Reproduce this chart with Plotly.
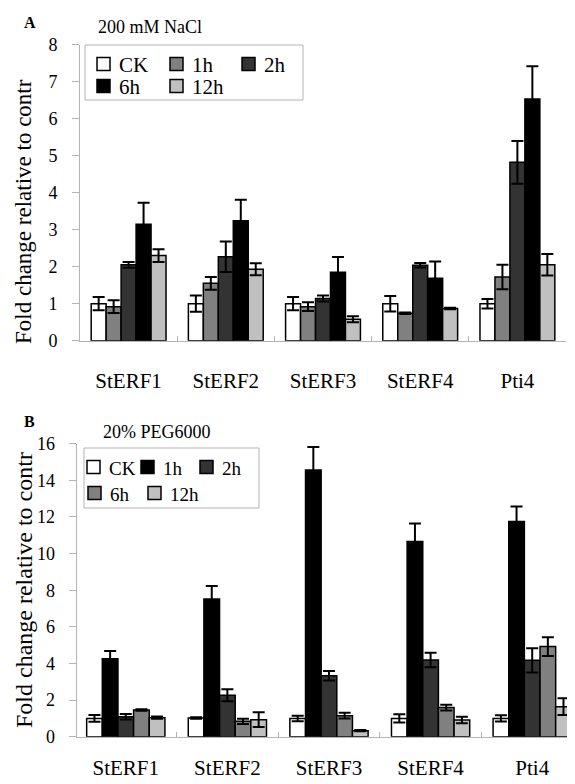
import plotly.graph_objects as go

W, H = 575, 784
OFF = 8  # page body margin offset
FONT = "Liberation Serif"

genes = ["StERF1", "StERF2", "StERF3", "StERF4", "Pti4"]
times = ["CK", "1h", "2h", "6h", "12h"]

# Panel A: 200 mM NaCl
nacl_ck = [1.00, 1.00, 1.00, 1.00, 1.00]
nacl_1h = [0.92, 1.55, 0.92, 0.74, 1.72]
nacl_2h = [2.05, 2.27, 1.14, 2.04, 4.82]
nacl_6h = [3.15, 3.24, 1.85, 1.69, 6.53]
nacl_12h = [2.30, 1.93, 0.58, 0.87, 2.05]
nacl_ck_err = [0.18, 0.22, 0.18, 0.21, 0.13]
nacl_1h_err = [0.17, 0.17, 0.12, 0.02, 0.33]
nacl_2h_err = [0.08, 0.41, 0.08, 0.06, 0.58]
nacl_6h_err = [0.58, 0.57, 0.41, 0.45, 0.89]
nacl_12h_err = [0.17, 0.16, 0.08, 0.02, 0.29]

# Panel B: 20% PEG6000
peg_ck = [1.00, 1.02, 1.00, 1.00, 1.00]
peg_1h = [4.25, 7.52, 14.57, 10.66, 11.75]
peg_2h = [1.09, 2.26, 3.33, 4.19, 4.17]
peg_6h = [1.46, 0.84, 1.15, 1.59, 4.92]
peg_12h = [1.04, 0.93, 0.33, 0.91, 1.64]
peg_ck_err = [0.18, 0.04, 0.15, 0.22, 0.17]
peg_1h_err = [0.43, 0.71, 1.25, 0.98, 0.82]
peg_2h_err = [0.15, 0.33, 0.26, 0.40, 0.66]
peg_6h_err = [0.04, 0.14, 0.16, 0.16, 0.51]
peg_12h_err = [0.06, 0.40, 0.03, 0.18, 0.46]

yticks_a = [0, 1, 2, 3, 4, 5, 6, 7, 8]
yticks_b = [0, 2, 4, 6, 8, 10, 12, 14, 16]

colors_a = ["#ffffff", "#808080", "#333333", "#000000", "#c0c0c0"]
colors_b = ["#ffffff", "#000000", "#333333", "#808080", "#c0c0c0"]

ytitle = "Fold change relative to contr"

nacl_vals = [nacl_ck, nacl_1h, nacl_2h, nacl_6h, nacl_12h]
nacl_errs = [nacl_ck_err, nacl_1h_err, nacl_2h_err, nacl_6h_err, nacl_12h_err]
peg_vals = [peg_ck, peg_1h, peg_2h, peg_6h, peg_12h]
peg_errs = [peg_ck_err, peg_1h_err, peg_2h_err, peg_6h_err, peg_12h_err]


def px(x):
    return (x - OFF) / W


def py(y):
    return 1 - (y - OFF) / H


fig = go.Figure()

for name, vals, errs, col in zip(times, nacl_vals, nacl_errs, colors_a):
    fig.add_trace(go.Bar(
        x=genes, y=vals, name=name, xaxis="x", yaxis="y", showlegend=False,
        marker=dict(color=col, line=dict(color="black", width=1.5)),
        error_y=dict(type="data", array=errs, visible=True, color="black",
                     thickness=2, width=6),
    ))

for name, vals, errs, col in zip(times, peg_vals, peg_errs, colors_b):
    fig.add_trace(go.Bar(
        x=genes, y=vals, name=name, xaxis="x2", yaxis="y2", showlegend=False,
        marker=dict(color=col, line=dict(color="black", width=1.5)),
        error_y=dict(type="data", array=errs, visible=True, color="black",
                     thickness=2, width=6),
    ))

axis_gray = "#b4b4b4"
xcommon = dict(type="category", showline=True, linecolor=axis_gray, linewidth=1,
               ticks="inside", tickson="boundaries", ticklen=5, tickcolor=axis_gray,
               showgrid=False, zeroline=False, automargin=False,
               tickfont=dict(family=FONT, size=21, color="black"))
ycommon = dict(showline=True, linecolor=axis_gray, linewidth=1, ticks="outside",
               ticklen=7, tickcolor=axis_gray, showgrid=False, zeroline=False,
               automargin=False, tickfont=dict(family=FONT, size=18, color="black"))

fig.update_layout(
    width=W, height=H,
    margin=dict(l=0, r=0, t=0, b=0, autoexpand=False),
    paper_bgcolor="white", plot_bgcolor="white",
    barmode="group", bargap=0.23, bargroupgap=0,
    xaxis=dict(domain=[px(80), px(566)], anchor="y", range=[-0.5, 4.5],
               ticklabelstandoff=21, **xcommon),
    yaxis=dict(domain=[py(340.7), py(44.7)], anchor="x", range=[0, 8],
               tickvals=yticks_a, ticklabelstandoff=11, **ycommon),
    xaxis2=dict(domain=[px(76.5), 1], anchor="y2", range=[-0.485, 4.5],
                ticklabelstandoff=12, **xcommon),
    yaxis2=dict(domain=[py(736.7), py(443.7)], anchor="x2", range=[0, 16],
                tickvals=yticks_b, ticklabelstandoff=10, **ycommon),
)

annotations = [
    dict(text="<b>A</b>", x=px(22), y=py(22), xanchor="left", yanchor="middle",
         font=dict(family=FONT, size=16, color="black")),
    dict(text="200 mM NaCl", x=px(96), y=py(27), xanchor="left", yanchor="middle",
         font=dict(family=FONT, size=18, color="black")),
    dict(text="<b>B</b>", x=px(22), y=py(421), xanchor="left", yanchor="middle",
         font=dict(family=FONT, size=16, color="black")),
    dict(text="20% PEG6000", x=px(101), y=py(432), xanchor="left", yanchor="middle",
         font=dict(family=FONT, size=18, color="black")),
    dict(text=ytitle, x=px(23), y=py(212), xanchor="center", yanchor="middle",
         textangle=-90, font=dict(family=FONT, size=23, color="black")),
    dict(text=ytitle, x=px(24), y=py(590), xanchor="center", yanchor="middle",
         textangle=-90, font=dict(family=FONT, size=24, color="black")),
]
shapes = []

# Legend boxes built from the series names and colours
legend_a = dict(box=(85, 45, 303, 100), size=21,
                slots=[(97, 64), (170, 64), (242, 64), (97, 86), (170, 86)], gap=20)
legend_b = dict(box=(84, 448, 259, 508), size=19,
                slots=[(87, 467), (141, 467), (200, 467), (88, 493), (148, 493)], gap=20)

for leg, cols in ((legend_a, colors_a), (legend_b, colors_b)):
    x0, y0, x1, y1 = leg["box"]
    shapes.append(dict(type="rect", xref="paper", yref="paper",
                       x0=px(x0), x1=px(x1), y0=py(y1), y1=py(y0),
                       line=dict(color=axis_gray, width=1), fillcolor="white", layer="above"))
    for name, col, (sx, sy) in zip(times, cols, leg["slots"]):
        shapes.append(dict(type="rect", xref="paper", yref="paper",
                           x0=px(sx), x1=px(sx + 13), y0=py(sy + 6.5), y1=py(sy - 6.5),
                           line=dict(color="black", width=1.5), fillcolor=col, layer="above"))
        annotations.append(dict(text=name, x=px(sx + leg["gap"]), y=py(sy + 1),
                                xanchor="left", yanchor="middle", showarrow=False,
                                font=dict(family=FONT, size=leg["size"], color="black")))

for a in annotations:
    a.setdefault("showarrow", False)
    a["xref"] = "paper"
    a["yref"] = "paper"

fig.update_layout(annotations=annotations, shapes=shapes)

fig.write_html("out.html")
